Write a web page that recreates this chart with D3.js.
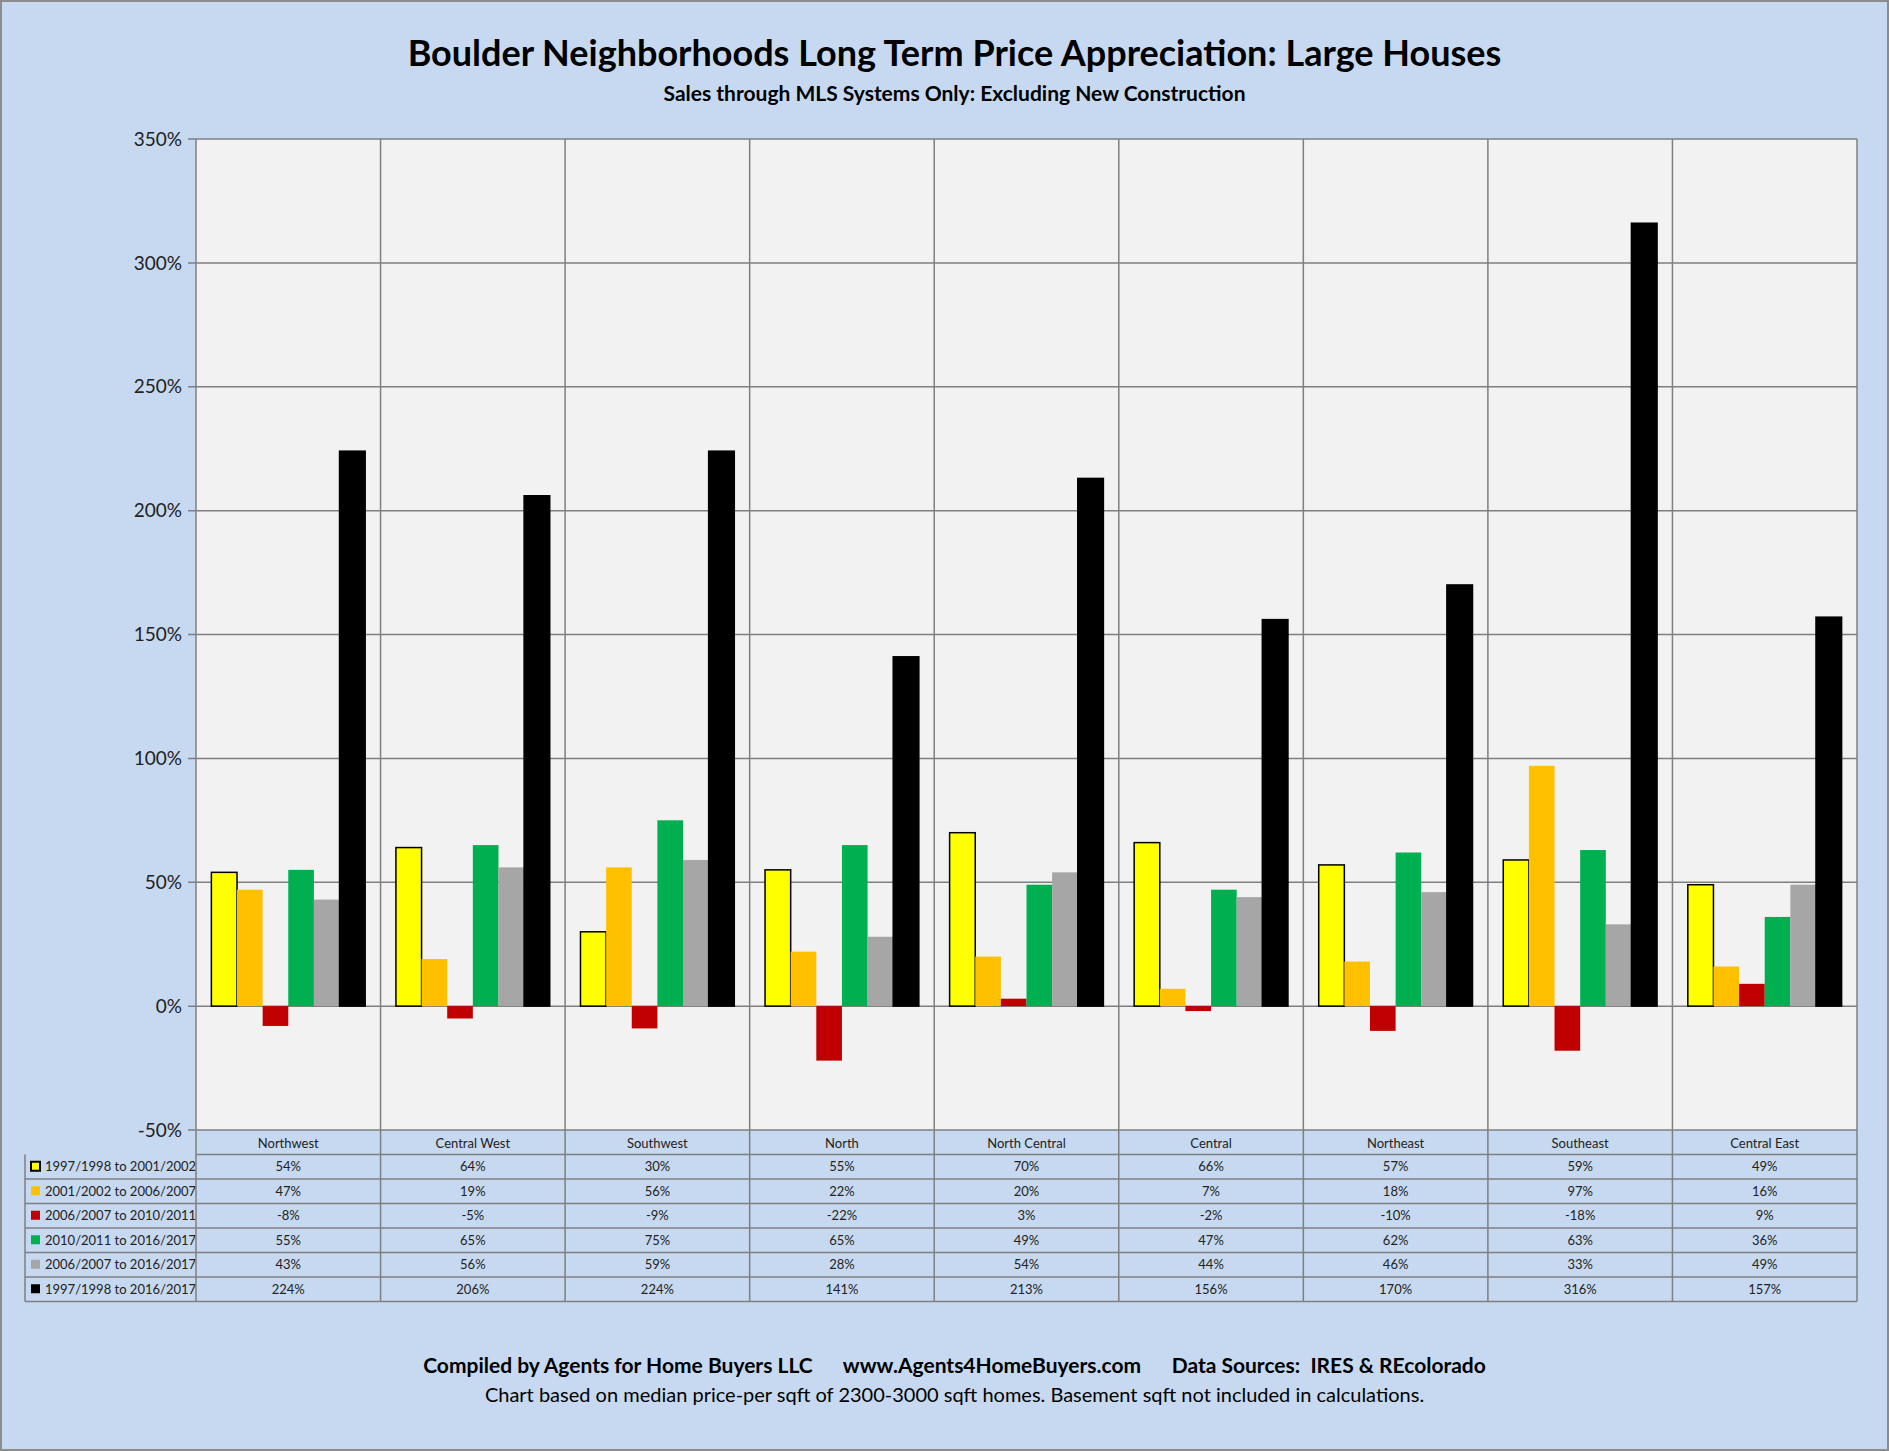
<!DOCTYPE html>
<html>
<head>
<meta charset="UTF-8">
<style>
  body { margin: 0; background: #fff; }
  svg { display: block; font-family: Lato, "Open Sans", sans-serif; }
</style>
</head>
<body>
<svg></svg>
<script src="https://d3js.org/d3.v7.min.js"></script>
<script>
const regions = ["Northwest","Central West","Southwest","North","North Central","Central","Northeast","Southeast","Central East"];
const seriesNames = ["1997/1998 to 2001/2002","2001/2002 to 2006/2007","2006/2007 to 2010/2011","2010/2011 to 2016/2017","2006/2007 to 2016/2017","1997/1998 to 2016/2017"];
const s1 = [54,64,30,55,70,66,57,59,49];
const s2 = [47,19,56,22,20,7,18,97,16];
const s3 = [-8,-5,-9,-22,3,-2,-10,-18,9];
const s4 = [55,65,75,65,49,47,62,63,36];
const s5 = [43,56,59,28,54,44,46,33,49];
const s6 = [224,206,224,141,213,156,170,316,157];
const yTicks = [-50,0,50,100,150,200,250,300,350];
const colors = ["#ffff00","#ffc000","#c00000","#00b050","#a6a6a6","#000000"];
const series = [s1,s2,s3,s4,s5,s6];

const W = 1889, H = 1451;
const svg = d3.select("svg").attr("width", W).attr("height", H);
svg.append("rect").attr("x",1).attr("y",1).attr("width",W-2).attr("height",H-2)
  .attr("fill","#c6d9f1").attr("stroke","#8c8c8c").attr("stroke-width",2);

const L = 196, R = 1857, T = 139, B = 1130;
const x = d3.scaleBand().domain(regions).range([L,R]);
const xi = d3.scaleBand().domain(d3.range(6)).range([0,x.bandwidth()]).paddingOuter(0.6);
const y = d3.scaleLinear().domain([-50,350]).range([B,T]);

svg.append("rect").attr("x",L).attr("y",T).attr("width",R-L).attr("height",B-T).attr("fill","#f2f2f2");

// gridlines
svg.append("g").selectAll("line").data(yTicks).join("line")
  .attr("x1",L-8).attr("x2",R).attr("y1",d=>y(d)).attr("y2",d=>y(d))
  .attr("stroke","#7f7f7f").attr("stroke-width",1.5);
svg.append("g").selectAll("line").data(d3.range(regions.length+1)).join("line")
  .attr("x1",d=>L+d*x.step()).attr("x2",d=>L+d*x.step()).attr("y1",T).attr("y2",B)
  .attr("stroke","#7f7f7f").attr("stroke-width",1.5);
svg.append("g").selectAll("text").data(yTicks).join("text")
  .attr("x",L-14).attr("y",d=>y(d)).attr("dy","0.35em").attr("text-anchor","end")
  .attr("font-size",19).attr("fill","#222").text(d=>d+"%");

// bars
series.forEach((s,k)=>{
  svg.append("g").selectAll("rect").data(s).join("rect")
    .attr("x",(d,i)=>x(regions[i])+xi(k))
    .attr("width",xi.bandwidth())
    .attr("y",d=>y(Math.max(0,d)))
    .attr("height",d=>Math.abs(y(d)-y(0)))
    .attr("fill",colors[k])
    .attr("stroke",(k===0||k===5)?"#000":"none").attr("stroke-width",1.5);
});

// data table
const rowH = 24.5, tL = 25, hdrTop = B;
const tbl = svg.append("g");
tbl.selectAll("text.h").data(regions).join("text")
  .attr("x",d=>x(d)+x.bandwidth()/2).attr("y",hdrTop+rowH/2+1).attr("dy","0.35em")
  .attr("text-anchor","middle").attr("font-size",13).attr("fill","#222").text(d=>d);
const rowsTop = hdrTop + rowH;
series.forEach((s,k)=>{
  const cy = rowsTop + k*rowH + rowH/2;
  tbl.append("rect").attr("x",tL+6).attr("y",cy-5).attr("width",9).attr("height",9)
    .attr("fill",colors[k]).attr("stroke",k===0?"#000":"none").attr("stroke-width",2);
  tbl.append("text").attr("x",tL+20).attr("y",cy).attr("dy","0.35em")
    .attr("font-size",13).attr("fill","#222").text(seriesNames[k]);
  tbl.selectAll(null).data(s).join("text")
    .attr("x",(d,i)=>x(regions[i])+x.bandwidth()/2).attr("y",cy).attr("dy","0.35em")
    .attr("text-anchor","middle").attr("font-size",13).attr("fill","#222").text(d=>d+"%");
});
const gl = "#7f7f7f";
for (let k=0;k<=6;k++){
  tbl.append("line").attr("x1",k===0?L:tL).attr("x2",R).attr("y1",rowsTop+k*rowH).attr("y2",rowsTop+k*rowH)
    .attr("stroke",gl).attr("stroke-width",1.5);
}
tbl.append("line").attr("x1",tL).attr("x2",tL).attr("y1",rowsTop).attr("y2",rowsTop+6*rowH).attr("stroke",gl).attr("stroke-width",1.5);
for (let i=0;i<=regions.length;i++){
  tbl.append("line").attr("x1",L+i*x.step()).attr("x2",L+i*x.step()).attr("y1",hdrTop).attr("y2",rowsTop+6*rowH)
    .attr("stroke",gl).attr("stroke-width",1.5);
}

// titles
svg.append("text").attr("x",W/2+10).attr("y",66).attr("text-anchor","middle")
  .attr("font-size",36).attr("font-weight","bold").text("Boulder Neighborhoods Long Term Price Appreciation: Large Houses");
svg.append("text").attr("x",W/2+10).attr("y",101).attr("text-anchor","middle")
  .attr("font-size",21).attr("font-weight","bold").text("Sales through MLS Systems Only: Excluding  New Construction");
svg.append("text").attr("x",W/2+10).attr("y",1373).attr("text-anchor","middle").attr("xml:space","preserve")
  .attr("font-size",21).attr("font-weight","bold").text("Compiled by Agents for Home Buyers LLC      www.Agents4HomeBuyers.com      Data Sources:  IRES & REcolorado");
svg.append("text").attr("x",W/2+10).attr("y",1402).attr("text-anchor","middle")
  .attr("font-size",20).text("Chart based on median price-per sqft of  2300-3000 sqft homes.  Basement sqft not included in calculations.");
</script>
</body>
</html>
